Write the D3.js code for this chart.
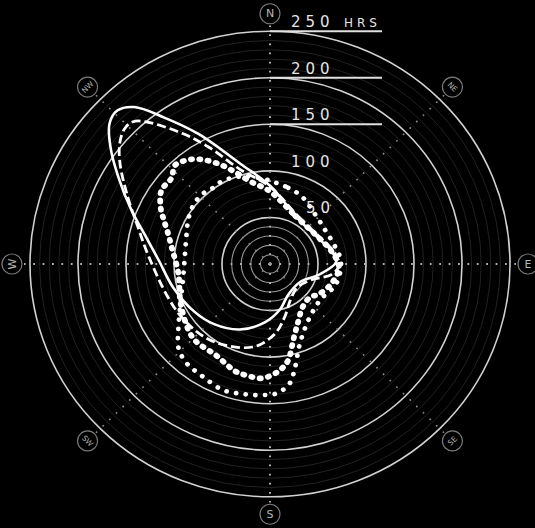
<!DOCTYPE html>
<html>
<head>
  <meta charset="utf-8">
  <title>Wind rose - hours</title>
  <style>
    body { margin: 0; background: #000; }
    svg { display: block; background: #000; }
    .ring { fill: none; }
    .scale-label { font-family: "DejaVu Sans", sans-serif; fill: #e6e6e6; }
    .dir-label { font-family: "DejaVu Sans", sans-serif; fill: #b8b8b8; text-anchor: middle; dominant-baseline: central; }
  </style>
</head>
<body>
  <svg width="535" height="528"></svg>

  <script src="https://d3js.org/d3.v7.min.js"></script>
  <script>
    // ring values (hours)
    var majorRings = [50, 100, 150, 200, 250];
    var innerRings = [10, 20, 30, 40];
    var scaleLabels = ['250', '200', '150', '100', '50'];
    var underlined = [250, 200, 150];

    var directions = ['N', 'NE', 'E', 'SE', 'S', 'SW', 'W', 'NW'];
    var dirAngles = [0, 45, 90, 135, 180, 225, 270, 315];

    // [bearing in degrees, hours], in drawing order
    var solidSeries = [[0, 84], [30, 57], [60, 57], [77, 65], [88, 69], [103, 52], [121, 37], [150, 38],
      [168, 50], [185, 63], [204, 77], [222, 87], [237, 94], [256, 104], [272, 116], [283, 133],
      [292, 156], [301, 185], [307, 208], [312, 225], [316, 229], [320, 220], [325, 192], [332, 158], [344, 112]];

    var dashedSeries = [[0, 83], [30, 59], [63, 60], [79, 68], [91, 72], [100, 65], [112, 46], [132, 38],
      [151, 44], [165, 59], [176, 75], [190, 90], [206, 98], [221, 104], [237, 108], [251, 112],
      [274, 127], [286, 143], [296, 165], [305, 191], [310, 204], [314, 210], [317, 209], [320, 199],
      [327, 167], [333, 141], [343, 106]];

    var dotSeries = [[5, 87], [13, 84], [24, 80], [45, 70], [58, 68], [73, 70], [88, 74], [108, 72],
      [126, 65], [146, 72], [160, 91], [167, 115], [171, 130], [177, 139], [183, 141], [189, 142],
      [194, 143], [200, 144], [207, 141], [212, 139], [218, 138], [226, 132], [234, 118], [248, 100],
      [266, 90], [286, 91], [300, 98], [309, 102], [317, 103], [324, 101], [331, 102], [344, 98], [357, 91]];

    var blobSeries = [[0, 78], [27, 58], [57, 57], [77, 65], [93, 72], [109, 67], [123, 60], [130, 55],
      [143, 57], [155, 69], [163, 84], [170, 106], [176, 116], [184, 123], [192, 122], [197, 121],
      [210, 113], [225, 113], [244, 103], [264, 96], [280, 104], [287, 111], [293, 120], [298, 129],
      [305, 138], [312, 138], [317, 145], [324, 139], [329, 130], [334, 119], [339, 107], [347, 91]];

    var svg = d3.select('svg');
    var cx = 270, cy = 264, yk = 0.97;
    var r = d3.scaleLinear().domain([0, 250]).range([0, 240]);
    var rad = Math.PI / 180;

    var g = svg.append('g').attr('transform', 'translate(' + cx + ',' + cy + ') scale(1,' + yk + ')');

    // faint rings every 10 hrs
    var faint = d3.range(60, 250, 10).filter(function(v) { return v % 50 !== 0; });
    g.selectAll('.faint').data(faint).join('circle')
      .attr('class', 'ring').attr('r', r)
      .attr('stroke', '#222').attr('stroke-width', 1);

    g.selectAll('.inner').data(innerRings).join('circle')
      .attr('class', 'ring').attr('r', r)
      .attr('stroke', '#959595').attr('stroke-width', 1.1);

    g.selectAll('.major').data(majorRings).join('circle')
      .attr('class', 'ring').attr('r', r)
      .attr('stroke', '#d2d2d2').attr('stroke-width', 1.6);

    // dotted bearing lines
    var axisEnd = 246;
    g.selectAll('.axis').data(dirAngles).join('line')
      .attr('x1', 0).attr('y1', 0)
      .attr('x2', function(a) { return Math.sin(a * rad) * axisEnd; })
      .attr('y2', function(a) { return -Math.cos(a * rad) * axisEnd; })
      .attr('stroke', function(a) { return a % 90 === 0 ? '#b0b0b0' : '#8a8a8a'; })
      .attr('stroke-width', function(a) { return a % 90 === 0 ? 2 : 1.6; })
      .attr('stroke-dasharray', '1.8,7.6');

    // scale label underlines
    g.selectAll('.uline').data(underlined).join('line')
      .attr('x1', 0).attr('x2', 112)
      .attr('y1', function(v) { return -r(v); })
      .attr('y2', function(v) { return -r(v); })
      .attr('stroke', '#e0e0e0').attr('stroke-width', 2);

    // curves
    var radial = d3.lineRadial()
      .angle(function(d) { return d[0] * rad; })
      .radius(function(d) { return r(d[1]); })
      .curve(d3.curveCatmullRomClosed.alpha(0.5));

    g.append('path').attr('d', radial(dotSeries))
      .attr('fill', 'none').attr('stroke', '#fff')
      .attr('stroke-width', 4.8).attr('stroke-linecap', 'round')
      .attr('stroke-dasharray', '0.1,9.6');

    g.append('path').attr('d', radial(blobSeries))
      .attr('fill', 'none').attr('stroke', '#fff')
      .attr('stroke-width', 5.8).attr('stroke-linecap', 'round')
      .attr('stroke-dasharray', '1.2,7.2');

    g.append('path').attr('d', radial(dashedSeries))
      .attr('fill', 'none').attr('stroke', '#fff')
      .attr('stroke-width', 2.8).attr('stroke-dasharray', '9,4');

    g.append('path').attr('d', radial(solidSeries))
      .attr('fill', 'none').attr('stroke', '#fff')
      .attr('stroke-width', 2.6);

    // scale labels
    scaleLabels.forEach(function(txt) {
      var v = +txt;
      var y = cy - r(v) * yk - 4;
      var x = v === 50 ? 306 : 291;
      svg.append('text').attr('class', 'scale-label')
        .attr('x', x).attr('y', y)
        .attr('font-size', 15).attr('letter-spacing', 5)
        .text(txt);
    });
    svg.append('text').attr('class', 'scale-label')
      .attr('x', 344).attr('y', cy - r(250) * yk - 4)
      .attr('font-size', 12).attr('letter-spacing', 4)
      .text('HRS');

    // direction labels in small circles
    var labelR = 258;
    var labelRot = [0, 45, 0, -45, 0, 45, -90, -45];
    var dirs = svg.selectAll('.dir').data(directions).join('g')
      .attr('transform', function(d, i) {
        var a = dirAngles[i] * rad;
        return 'translate(' + (cx + Math.sin(a) * labelR) + ',' + (cy - Math.cos(a) * labelR * yk) + ')';
      });
    dirs.append('circle').attr('r', 10)
      .attr('fill', '#000').attr('stroke', '#7a7a7a').attr('stroke-width', 1.2);
    dirs.append('text').attr('class', 'dir-label')
      .attr('font-size', function(d) { return d.length > 1 ? 7.5 : 11; })
      .attr('transform', function(d, i) { return 'rotate(' + labelRot[i] + ')'; })
      .text(function(d) { return d; });
  </script>
</body>
</html>
